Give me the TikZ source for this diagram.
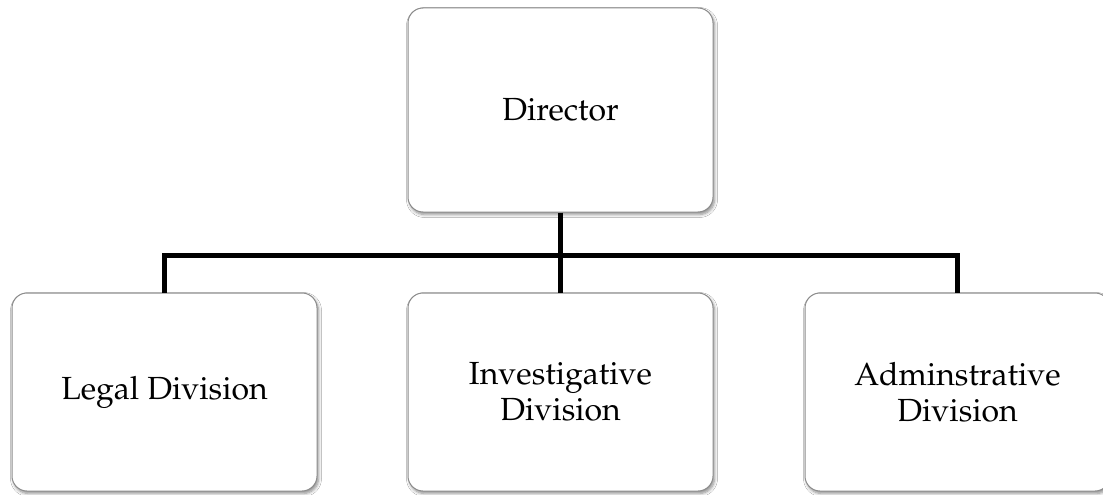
\documentclass[tikz,border=0pt]{standalone}
\usepackage[T1]{fontenc}
\usepackage{mathpazo}
\usetikzlibrary{shadows.blur}
\tikzset{
  unit/.style={draw=black!45, line width=1pt, fill=white, rounded corners=15pt,
    minimum width=305pt, minimum height=#1, inner sep=0pt, align=center,
    font=\fontsize{32}{36}\selectfont,
    blur shadow={shadow xshift=1.5pt, shadow yshift=-2.5pt, shadow blur steps=6,
      shadow blur radius=3pt, shadow opacity=45}},
  unit/.default=200pt,
  bus/.style={line width=5pt, draw=black}
}
\begin{document}
\begin{tikzpicture}[x=1pt,y=-1pt]
  \useasboundingbox (0,0) rectangle (1103,495);
  \fill[white] (0,0) rectangle (1103,495);
  \node[unit=204pt] (dir) at (560.5,110) {Director};
  \node[unit=198pt] (legal) at (164.5,392) {Legal Division};
  \node[unit=198pt] (inv) at (560.5,392) {Investigative\\Division};
  \node[unit=198pt] (admin) at (957.5,392) {Adminstrative\\Division};
  \coordinate (hub) at (560.5,255.5);
  \draw[bus] (dir.south) -- (inv.north);
  \draw[bus] (legal.north) |- (hub) -| (admin.north);
\end{tikzpicture}
\end{document}
